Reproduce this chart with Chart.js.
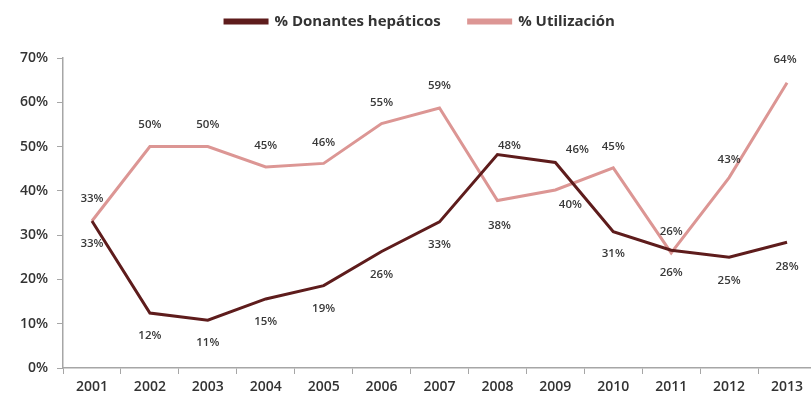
<!DOCTYPE html>
<html>
<head>
<meta charset="utf-8">
<script src="https://cdn.jsdelivr.net/npm/chart.js"></script>
<style>
    body { margin: 0; background: #fff; overflow: hidden; }
    #wrap { width: 830px; height: 402px; }
</style>
</head>
<body>
<div id="wrap"><canvas id="lineChart"></canvas></div>
<script>
// data
const years = ['2001', '2002', '2003', '2004', '2005', '2006', '2007', '2008', '2009', '2010', '2011', '2012', '2013'];
const donantes = [33.2, 12.4, 10.8, 15.6, 18.6, 26.3, 33.0, 48.2, 46.4, 30.8, 26.6, 25.0, 28.4];
const utilizacion = [33.2, 50.0, 50.0, 45.4, 46.2, 55.2, 58.7, 37.8, 40.2, 45.2, 26.0, 43.0, 64.4];
const donantesLabels = ['33%', '12%', '11%', '15%', '19%', '26%', '33%', '48%', '46%', '31%', '26%', '25%', '28%'];
const utilizacionLabels = ['33%', '50%', '50%', '45%', '46%', '55%', '59%', '38%', '40%', '45%', '26%', '43%', '64%'];
const yTicks = [0, 10, 20, 30, 40, 50, 60, 70];

const darkRed = '#5e1c1c';
const pink = '#dc9694';
const axisFont = '"Open Sans", sans-serif';

// where each value label goes relative to its point [dx, dy]
const labelShift = [
    [[0, 23], [0, 23], [0, 23], [0, 23], [0, 23], [0, 23], [0, 23], [12, -9], [22, -13], [0, 22], [0, 23], [0, 23], [0, 24]],
    [[0, -22], [0, -22], [0, -22], [0, -21], [0, -21], [0, -21], [0, -22], [2, 25], [15, 15], [0, -21], [0, -21], [0, -18], [-2, -23]]
];
const allLabels = [donantesLabels, utilizacionLabels];

// draws the % text next to every point
const valueLabels = {
    id: 'valueLabels',
    afterDatasetsDraw(chart) {
        const ctx = chart.ctx;
        ctx.save();
        ctx.font = '600 11.5px "Open Sans", sans-serif';
        ctx.fillStyle = '#383838';
        ctx.textAlign = 'center';
        ctx.textBaseline = 'middle';
        chart.data.datasets.forEach((ds, i) => {
            const meta = chart.getDatasetMeta(i);
            meta.data.forEach((pt, j) => {
                const s = labelShift[i][j];
                ctx.fillText(allLabels[i][j], pt.x + s[0], pt.y + s[1]);
            });
        });
        ctx.restore();
    }
};

// fixed legend height so the plot starts at the 70% line, legend nudged into place
const legendSpace = {
    id: 'legendSpace',
    beforeInit(chart) {
        const fit = chart.legend.fit;
        chart.legend.fit = function () {
            fit.bind(chart.legend)();
            this.height = 54;
        };
    },
    afterLayout(chart) {
        chart.legend.left += 12;
        chart.legend.right += 12;
        chart.legend.top -= 18;
        chart.legend.bottom -= 18;
    }
};

const ctx = document.getElementById('lineChart').getContext('2d');
new Chart(ctx, {
    type: 'line',
    data: {
        labels: years,
        datasets: [{
            label: '% Donantes hepáticos',
            data: donantes,
            borderColor: darkRed,
            backgroundColor: darkRed,
            borderWidth: 3,
            pointRadius: 0,
            tension: 0
        }, {
            label: '% Utilización',
            data: utilizacion,
            borderColor: pink,
            backgroundColor: pink,
            borderWidth: 3,
            pointRadius: 0,
            tension: 0
        }]
    },
    options: {
        responsive: true,
        maintainAspectRatio: false,
        animation: false,
        layout: { padding: { top: 4, right: 14, bottom: 0, left: 0 } },
        plugins: {
            tooltip: { enabled: false },
            legend: {
                position: 'top',
                labels: {
                    boxWidth: 42,
                    boxHeight: 3,
                    padding: 28,
                    color: '#333',
                    font: { family: axisFont, size: 15, weight: 'bold' }
                }
            }
        },
        scales: {
            x: {
                offset: true,
                grid: { display: true, drawOnChartArea: false, offset: true, tickLength: 6, color: '#a6a6a6' },
                border: { display: true, color: '#a6a6a6', width: 1.5 },
                ticks: {
                    color: '#333',
                    padding: 5,
                    maxRotation: 0,
                    font: { family: axisFont, size: 14, weight: '600' }
                },
                afterFit(scale) { scale.height = 34; }
            },
            y: {
                min: 0,
                max: 70,
                afterBuildTicks(scale) { scale.ticks = yTicks.map(v => ({ value: v })); },
                grid: { display: true, drawOnChartArea: false, tickLength: 6, color: '#a6a6a6' },
                border: { display: true, color: '#a6a6a6', width: 1.5 },
                ticks: {
                    color: '#333',
                    padding: 9,
                    font: { family: axisFont, size: 14, weight: '600' },
                    callback: v => v + '%'
                },
                afterFit(scale) { scale.width = 63; }
            }
        }
    },
    plugins: [valueLabels, legendSpace]
});
</script>
</body>
</html>
